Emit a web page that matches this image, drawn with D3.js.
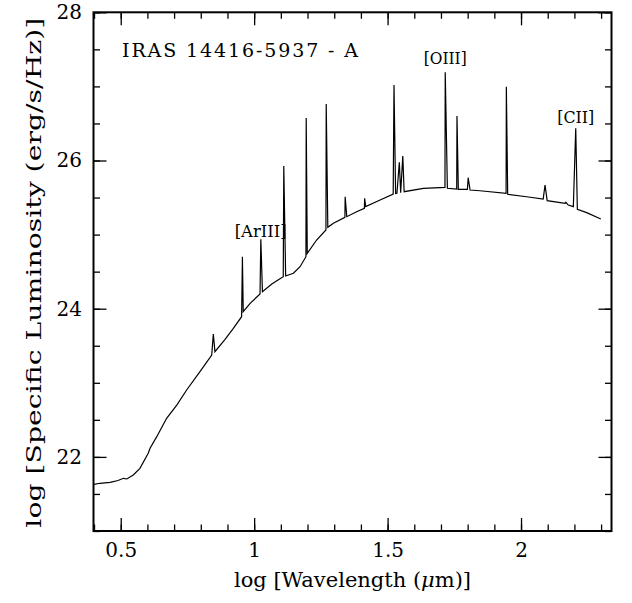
<!DOCTYPE html>
<html>
<head>
<meta charset="utf-8">
<script src="https://cdn.jsdelivr.net/npm/d3@7"></script>
<style>
  html, body { margin: 0; padding: 0; background: #fff; }
  svg { display: block; }
  text { font-family: "DejaVu Serif", serif; fill: #000; }
</style>
</head>
<body>
<svg id="chart" width="632" height="603"></svg>
<script>
// ---- data ----
const logWavelength = [
  0.400, 0.422, 0.460, 0.490, 0.510, 0.523, 0.547, 0.572, 0.603, 0.610,
  0.635, 0.672, 0.710, 0.747, 0.797, 0.841, 0.847, 0.853, 0.891, 0.922,
  0.953, 0.956, 0.959, 0.985, 1.022, 1.025, 1.031, 1.066, 1.109, 1.111,
  1.118, 1.147, 1.172, 1.194, 1.195, 1.199, 1.234, 1.269, 1.270, 1.276,
  1.297, 1.340, 1.341, 1.347, 1.384, 1.413, 1.414, 1.418, 1.472, 1.521,
  1.524, 1.530, 1.535, 1.544, 1.549, 1.557, 1.562, 1.634, 1.715, 1.716,
  1.724, 1.759, 1.760, 1.765, 1.799, 1.802, 1.809, 1.846, 1.944, 1.945,
  1.950, 2.021, 2.083, 2.090, 2.098, 2.165, 2.168, 2.177, 2.196, 2.205,
  2.211, 2.246, 2.299
];
const logLuminosity = [
  21.630, 21.644, 21.657, 21.681, 21.711, 21.702, 21.756, 21.846, 22.049, 22.116,
  22.273, 22.521, 22.700, 22.903, 23.150, 23.375, 23.659, 23.420, 23.587, 23.735,
  23.892, 24.702, 23.960, 24.073, 24.198, 24.937, 24.229, 24.333, 24.432, 25.926,
  24.441, 24.478, 24.567, 24.702, 26.573, 24.748, 24.927, 25.062, 26.763, 25.098,
  25.152, 25.233, 25.511, 25.242, 25.309, 25.355, 25.490, 25.377, 25.467, 25.548,
  27.019, 25.555, 25.557, 25.976, 25.565, 26.061, 25.579, 25.625, 25.638, 27.190,
  25.625, 25.615, 26.601, 25.611, 25.611, 25.768, 25.602, 25.592, 25.557, 26.996,
  25.544, 25.511, 25.480, 25.669, 25.458, 25.422, 25.436, 25.399, 25.377, 26.435,
  25.341, 25.296, 25.211
];
const lineLabels = ["[ArIII]", "[OIII]", "[CII]"];
const lineLabelX = [1.0245, 1.716, 2.205];
const lineLabelY = [24.97, 27.3, 26.5];

const xTickValues = [0.5, 1, 1.5, 2];
const xTickLabels = ["0.5", "1", "1.5", "2"];
const yTickValues = [22, 24, 26, 28];
const yTickLabels = ["22", "24", "26", "28"];
const xDomain = [0.398, 2.339];
const yDomain = [21, 28];
const objectName = "IRAS 14416-5937 - A";

// ---- layout ----
const L = 93.5, R = 611.5, T = 12.3, B = 531;
const svg = d3.select("#chart");
const x = d3.scaleLinear().domain(xDomain).range([L, R]);
const y = d3.scaleLinear().domain(yDomain).range([B, T]);

const majorLen = 13, minorLen = 6.5;

function styleAxis(g) {
  g.select(".domain").remove();
  g.attr("font-family", null).attr("font-size", null);
  g.selectAll(".tick line").attr("stroke", "#000").attr("stroke-width", 1.3);
  g.selectAll(".tick text").style("font-size", "20px");
}

// minor ticks
svg.append("g").attr("transform", `translate(0,${B})`)
  .call(d3.axisBottom(x).tickValues(x.ticks(20)).tickSize(-minorLen).tickFormat(""))
  .call(styleAxis);
svg.append("g").attr("transform", `translate(0,${T})`)
  .call(d3.axisTop(x).tickValues(x.ticks(20)).tickSize(-minorLen).tickFormat(""))
  .call(styleAxis);
svg.append("g").attr("transform", `translate(${L},0)`)
  .call(d3.axisLeft(y).tickValues(y.ticks(14)).tickSize(-minorLen).tickFormat(""))
  .call(styleAxis);
svg.append("g").attr("transform", `translate(${R},0)`)
  .call(d3.axisRight(y).tickValues(y.ticks(14)).tickSize(-minorLen).tickFormat(""))
  .call(styleAxis);

// major ticks with labels
svg.append("g").attr("transform", `translate(0,${B})`)
  .call(d3.axisBottom(x).tickValues(xTickValues).tickSize(-majorLen).tickPadding(12)
        .tickFormat((d, i) => xTickLabels[i]))
  .call(styleAxis);
svg.append("g").attr("transform", `translate(0,${T})`)
  .call(d3.axisTop(x).tickValues(xTickValues).tickSize(-majorLen).tickFormat(""))
  .call(styleAxis);
svg.append("g").attr("transform", `translate(${L},0)`)
  .call(d3.axisLeft(y).tickValues(yTickValues).tickSize(-majorLen).tickPadding(11.5)
        .tickFormat((d, i) => yTickLabels[i]))
  .call(styleAxis);
svg.append("g").attr("transform", `translate(${R},0)`)
  .call(d3.axisRight(y).tickValues(yTickValues).tickSize(-majorLen).tickFormat(""))
  .call(styleAxis);

// frame
svg.append("rect")
  .attr("x", L).attr("y", T).attr("width", R - L).attr("height", B - T)
  .attr("fill", "none").attr("stroke", "#000").attr("stroke-width", 2);

// spectrum
const pts = logWavelength.map((w, i) => [w, logLuminosity[i]]);
svg.append("path")
  .datum(pts)
  .attr("fill", "none")
  .attr("stroke", "#000")
  .attr("stroke-width", 1.2)
  .attr("stroke-linejoin", "miter")
  .attr("d", d3.line().x(d => x(d[0])).y(d => y(d[1])));

// line labels
const labelW = [52, 43, 37];
svg.selectAll("text.lbl").data(lineLabels).join("text")
  .attr("class", "lbl")
  .attr("x", (d, i) => x(lineLabelX[i]))
  .attr("y", (d, i) => y(lineLabelY[i]))
  .attr("text-anchor", "middle")
  .style("font-size", "16px")
  .attr("textLength", (d, i) => labelW[i])
  .attr("lengthAdjust", "spacingAndGlyphs")
  .text(d => d);

// object name
svg.append("text")
  .attr("x", 122).attr("y", 56.5)
  .style("font-size", "19px")
  .attr("textLength", 236)
  .attr("lengthAdjust", "spacing")
  .text(objectName);

// axis titles
const xt = svg.append("text")
  .attr("x", (L + R) / 2).attr("y", 587)
  .attr("text-anchor", "middle")
  .style("font-size", "21px");
xt.append("tspan").text("log [Wavelength (");
xt.append("tspan").style("font-style", "italic").text("μ");
xt.append("tspan").text("m)]");

svg.append("text")
  .attr("transform", `translate(41,${(T + B) / 2 + 1}) rotate(-90)`)
  .attr("text-anchor", "middle")
  .style("font-size", "21px")
  .attr("textLength", 510)
  .attr("lengthAdjust", "spacingAndGlyphs")
  .text("log [Specific Luminosity (erg/s/Hz)]");
</script>
</body>
</html>
